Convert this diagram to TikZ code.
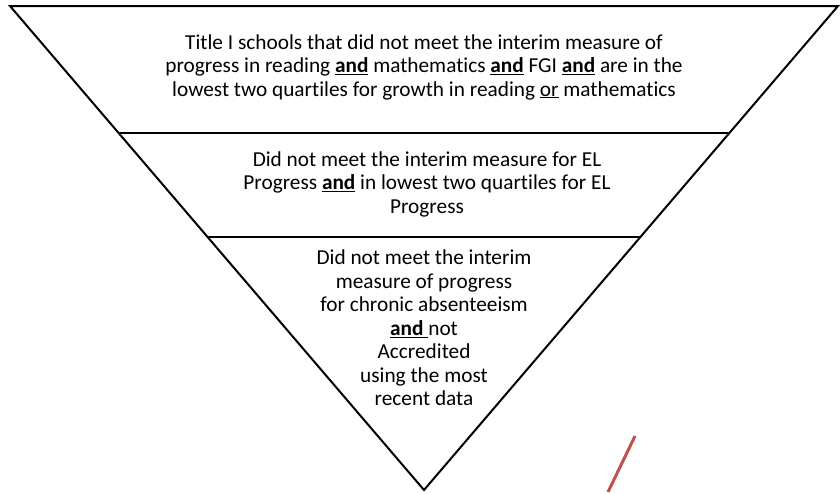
\documentclass[tikz,border=0pt]{standalone}
\usepackage{fontspec}
\setmainfont[Ligatures=NoCommon]{Carlito}
\usepackage{tikz}
\usetikzlibrary{calc}
\definecolor{markred}{RGB}{192,80,77}
\newcommand{\und}{\underline{\textbf{and}}}

\begin{document}
\begin{tikzpicture}[x=1pt,y=-1pt,
  tier/.style={align=center,font=\fontsize{21.3}{23.5}\selectfont}]
\useasboundingbox (0,0) rectangle (840,493);
\coordinate (tl) at (10,6);
\coordinate (tr) at (838,6);
\coordinate (apex) at (424,490);
\draw[line width=2pt] (tl)--(tr)--(apex)--cycle;

\coordinate (l1) at ($(tl)!0.2624!(apex)$);
\coordinate (r1) at ($(tr)!0.2624!(apex)$);
\coordinate (l2) at ($(tl)!0.4773!(apex)$);
\coordinate (r2) at ($(tr)!0.4773!(apex)$);
\draw[line width=2pt] (l1)--(r1);
\draw[line width=2pt] (l2)--(r2);

\node[tier] (top) at (424,67) {Title I schools that did not meet the interim measure of\\
progress in reading \und{} mathematics \und{} FGI \und{} are in the\\
lowest two quartiles for growth in reading \underline{or} mathematics};
\node[tier] (mid) at (427,184) {Did not meet the interim measure for EL\\
Progress \und{} in lowest two quartiles for EL\\
Progress};
\node[tier] (low) at (424,328) {Did not meet the interim\\
measure of progress\\
for chronic absenteeism\\
\underline{\textbf{and}\ }not\\
Accredited\\
using the most\\
recent data};

\coordinate (m1) at (608,492);
\coordinate (m2) at (635,436);
\draw[markred,line width=3pt] (m1)--(m2);

\end{tikzpicture}
\end{document}
